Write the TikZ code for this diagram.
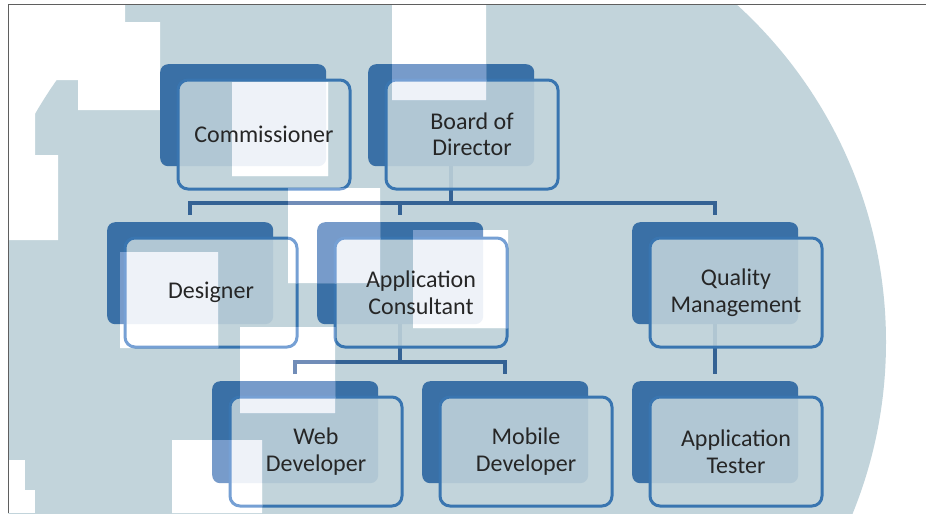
\documentclass[tikz,border=0pt]{standalone}
\usepackage{fontspec}
\setmainfont{Carlito}
\usetikzlibrary{calc}
\definecolor{wmgray}{RGB}{194,212,219}
\definecolor{gback}{RGB}{58,112,166}
\definecolor{wback}{RGB}{119,155,202}
\definecolor{gborder}{RGB}{57,117,176}
\definecolor{wborder}{RGB}{118,160,212}
\definecolor{gconn}{RGB}{52,98,148}
\definecolor{wconn}{RGB}{113,141,184}
\definecolor{txt}{RGB}{38,38,38}
\definecolor{framegray}{RGB}{95,95,95}
\colorlet{cback}{gback}
\colorlet{cborder}{gborder}
\colorlet{cconn}{gconn}
\colorlet{cfill}{wmgray}
\tikzset{
  backbox/.style={fill=cback, rounded corners=8pt, minimum width=166pt, minimum height=102pt, inner sep=0pt, anchor=north west, draw=none},
  frontbox/.style={draw=cborder, line width=3pt, fill=cfill, fill opacity=0.88, rounded corners=10pt, minimum width=172pt, minimum height=109pt, inner sep=0pt, anchor=north west},
  conn/.style={draw=cconn, line width=3.5pt},
  lbl/.style={text=txt, font=\fontsize{24}{26.5}\selectfont, align=center, inner sep=0pt},
  frameline/.style={draw=framegray, line width=1.3pt},
}
\newcommand\orgback[3]{\node[backbox] (#1-b) at (#2,#3) {};}
\newcommand\orgfront[3]{\node[frontbox] (#1-f) at ($(#2,#3)+(16.5,14.5)$) {};}
\newcommand\draworg{%
  \orgback{com}{160}{64}
  \orgback{bod}{368}{64}
  \orgback{des}{107}{222}
  \orgback{ac}{317}{222}
  \orgback{qm}{632}{222}
  \orgback{web}{212}{381}
  \orgback{mob}{422}{381}
  \orgback{tes}{632}{381}
  \coordinate (bus1) at (451,203);
  \coordinate (bus2) at (400,362);
  \draw[conn] (bod-b.south) -- (bod-b.south |- bus1);
  \draw[conn] ([yshift=7pt]des-b.north) -- (des-b.north |- bus1) -- (qm-b.north |- bus1) -- ([yshift=7pt]qm-b.north);
  \draw[conn] (ac-b.north |- bus1) -- ([yshift=7pt]ac-b.north);
  \draw[conn] (ac-b.south) -- (ac-b.south |- bus2);
  \draw[conn] ([yshift=7pt]web-b.north) -- (web-b.north |- bus2) -- (mob-b.north |- bus2) -- ([yshift=7pt]mob-b.north);
  \draw[conn] (qm-b.south) -- ([yshift=7pt]tes-b.north);
  \orgfront{com}{160}{64}
  \orgfront{bod}{368}{64}
  \orgfront{des}{107}{222}
  \orgfront{ac}{317}{222}
  \orgfront{qm}{632}{222}
  \orgfront{web}{212}{381}
  \orgfront{mob}{422}{381}
  \orgfront{tes}{632}{381}
}
\begin{document}
\begin{tikzpicture}[x=1pt, y=-1pt]
\useasboundingbox (0,0) rectangle (926,515);
\fill[white] (0,0) rectangle (926,515);
% watermark
\begin{scope}
  \clip (8.3,4.7) rectangle (926,513);
  \fill[wmgray] (430,342) circle[radius=456];
  \fill[white] (8,5) -- (125,5) -- (125,22) -- (160,22) -- (160,110) -- (78,110) -- (78,80) -- (35,80) -- (35,155) -- (58,155) -- (58,240) -- (8,240) -- cycle;
  \fill[white] (8,460) rectangle (25,513);
  \fill[white] (8,490) rectangle (35,513);
  \fill[white] (392,5) rectangle (486,100);
  \fill[white] (288,188) rectangle (380,283);
  \fill[white] (172,440) rectangle (262,513);
\end{scope}
% diagram, grey-region colours
\begin{scope}
  \draworg
\end{scope}
% diagram, white-region colours
\begin{scope}
  \colorlet{cback}{wback}
  \colorlet{cborder}{wborder}
  \colorlet{cconn}{wconn}
  \colorlet{cfill}{white}
  \clip (392,5) rectangle (486,100)
        (232,82) rectangle (328,176)
        (120,252) rectangle (218,348)
        (288,188) rectangle (380,283)
        (413,230) rectangle (508,328)
        (240,327) rectangle (335,413)
        (172,440) rectangle (262,513);
  \fill[white] (0,0) rectangle (926,515);
  \draworg
\end{scope}
% labels
\node[lbl] (t-com) at (com-f) {Commissioner};
\node[lbl] (t-bod) at (bod-f) {Board of\\Director};
\node[lbl] (t-des) at (des-f) {Designer};
\node[lbl] (t-ac) at (ac-f) {Application\\Consultant};
\node[lbl] (t-qm) at (qm-f) {Quality\\Management};
\node[lbl] (t-web) at (web-f) {Web\\Developer};
\node[lbl] (t-mob) at (mob-f) {Mobile\\Developer};
\node[lbl] (t-tes) at (tes-f) {Application\\Tester};
% frame
\coordinate (fr-tl) at (8.3,4.7);
\coordinate (fr-tr) at (926,4.7);
\coordinate (fr-bl) at (8.3,513);
\draw[frameline] (fr-tr) -- (fr-tl) -- (fr-bl);
\end{tikzpicture}
\end{document}
